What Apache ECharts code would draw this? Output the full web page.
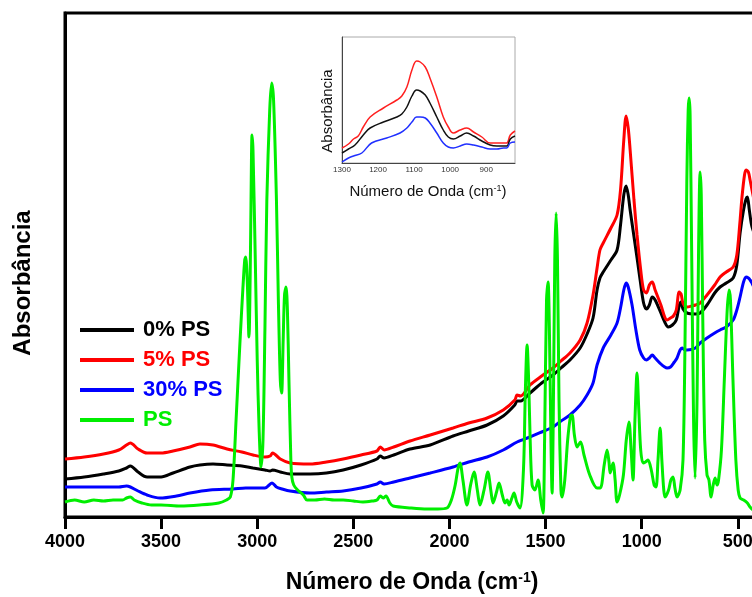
<!DOCTYPE html>
<html><head><meta charset="utf-8">
<script src="https://cdn.jsdelivr.net/npm/echarts@6/dist/echarts.min.js"></script>
<style>html,body{margin:0;padding:0;background:#fff}#c{width:752px;height:597px}</style>
</head><body><div id="c"></div>
<script>
// ---- main spectra (wavenumber cm-1, absorbance a.u.) ----
var wnRed = [4000,3900,3800,3720,3680,3660,3620,3573,3500,3438,3350,3298,3230,3157,3080,3022,2960,2933,2920,2880,2829,2725,2640,2553,2460,2377,2360,2340,2290,2205,2100,1981,1900,1804,1720,1660,1648,1630,1581,1520,1461,1420,1373,1320,1284,1253,1232,1217,1200,1160,1128,1110,1093,1081,1070,1060,1040,1024,1005,990,975,960,945,930,900,880,868,850,835,820,805,795,785,764,740,720,696,660,620,592,560,524,505,490,478,465,457,445,436,426,400];
var absRed = [.058,.060,.063,.067,.072,.074,.068,.064,.064,.066,.070,.073,.072,.068,.065,.062,.060,.061,.064,.058,.054,.053,.055,.058,.062,.066,.070,.067,.070,.076,.082,.089,.094,.099,.107,.117,.122,.121,.132,.141,.149,.156,.164,.177,.194,.222,.249,.267,.274,.289,.302,.327,.377,.401,.389,.367,.317,.282,.247,.227,.224,.232,.235,.227,.212,.200,.197,.199,.201,.207,.225,.223,.214,.210,.211,.212,.214,.222,.232,.240,.245,.250,.262,.292,.320,.342,.347,.345,.337,.327,.302];

var wnBlack = [4000,3900,3800,3720,3680,3660,3620,3573,3500,3438,3350,3298,3230,3157,3080,3022,2960,2933,2920,2880,2829,2725,2640,2553,2460,2377,2360,2340,2290,2205,2100,1981,1900,1804,1720,1660,1648,1630,1581,1520,1461,1420,1373,1320,1284,1253,1232,1217,1200,1160,1128,1110,1093,1081,1070,1060,1045,1024,1008,990,975,960,945,930,900,880,862,840,820,805,795,785,764,720,696,660,620,592,560,524,505,488,470,457,450,440,426,400];
var absBlack = [.038,.040,.043,.046,.049,.051,.045,.040,.040,.044,.050,.052,.053,.052,.051,.049,.047,.046,.047,.045,.043,.043,.044,.047,.052,.058,.061,.059,.062,.068,.072,.081,.086,.092,.101,.112,.116,.116,.124,.134,.142,.149,.157,.169,.183,.199,.227,.239,.245,.257,.267,.292,.322,.331,.322,.307,.287,.259,.237,.214,.208,.212,.220,.217,.204,.195,.190,.192,.197,.211,.215,.208,.204,.203,.204,.212,.224,.230,.234,.239,.252,.284,.307,.318,.320,.307,.290,.277];

var wnBlue = [4000,3900,3800,3720,3680,3660,3620,3573,3506,3420,3350,3246,3126,3060,3022,2960,2923,2900,2870,2829,2725,2640,2553,2460,2377,2360,2340,2290,2205,2100,1981,1900,1804,1720,1648,1581,1520,1461,1420,1373,1320,1284,1253,1232,1200,1160,1128,1110,1093,1081,1070,1050,1030,1010,990,975,960,945,930,900,880,868,850,830,816,800,790,775,764,720,696,660,620,592,560,524,505,488,470,457,445,436,426,400];
var absBlue = [.030,.030,.030,.030,.031,.030,.026,.022,.019,.021,.024,.027,.028,.029,.029,.029,.034,.030,.028,.026,.024,.025,.026,.029,.033,.035,.033,.035,.039,.044,.050,.055,.060,.067,.075,.080,.085,.090,.096,.102,.112,.122,.134,.152,.169,.182,.194,.209,.227,.234,.230,.212,.187,.167,.159,.157,.159,.162,.159,.153,.150,.149,.150,.155,.159,.167,.169,.167,.167,.169,.174,.179,.184,.187,.190,.197,.207,.220,.235,.240,.239,.237,.234,.222];

var wnPS = [4000,3950,3900,3850,3800,3750,3700,3680,3660,3640,3600,3550,3500,3400,3300,3200,3160,3140,3126,3110,3090,3075,3065,3060,3052,3043,3035,3030,3027,3022,3010,3000,2990,2980,2970,2960,2950,2935,2925,2915,2900,2890,2880,2873,2865,2858,2850,2843,2835,2825,2820,2810,2790,2760,2741,2700,2650,2600,2553,2500,2450,2400,2377,2360,2345,2330,2310,2293,2200,2117,2060,2013,1990,1970,1955,1945,1930,1909,1890,1872,1855,1841,1820,1800,1785,1773,1755,1742,1725,1711,1700,1690,1675,1664,1650,1633,1615,1605,1596,1588,1580,1570,1555,1539,1525,1513,1505,1495,1487,1480,1472,1466,1460,1452,1445,1438,1430,1420,1414,1400,1385,1370,1362,1350,1336,1318,1300,1270,1232,1215,1195,1180,1170,1164,1149,1138,1128,1115,1095,1080,1066,1055,1045,1035,1024,1015,1005,993,980,967,950,935,925,915,904,895,885,878,860,848,837,827,816,800,785,775,765,758,753,748,740,730,722,712,704,696,690,682,672,660,650,639,628,618,608,600,585,570,555,545,538,525,510,498,488,470,450,436,420,400];
var absPS = [.015,.017,.015,.017,.016,.017,.017,.019,.020,.017,.014,.012,.012,.011,.012,.014,.017,.020,.037,.097,.174,.227,.257,.260,.237,.180,.267,.357,.382,.367,.257,.157,.087,.050,.077,.187,.317,.407,.434,.417,.317,.217,.137,.124,.177,.222,.230,.207,.137,.057,.040,.032,.027,.022,.017,.017,.018,.017,.017,.016,.015,.016,.017,.021,.019,.021,.014,.011,.009,.008,.008,.009,.017,.032,.049,.054,.037,.012,.032,.045,.027,.012,.027,.045,.027,.014,.025,.034,.022,.014,.017,.012,.019,.024,.015,.009,.047,.127,.172,.137,.077,.032,.027,.037,.017,.004,.077,.217,.235,.187,.077,.024,.097,.257,.304,.257,.117,.027,.020,.037,.077,.101,.102,.082,.070,.075,.062,.042,.029,.029,.052,.067,.055,.044,.054,.037,.015,.022,.042,.077,.095,.067,.037,.097,.144,.107,.067,.054,.055,.057,.047,.032,.030,.057,.089,.057,.027,.020,.027,.037,.040,.029,.020,.027,.057,.167,.337,.407,.419,.402,.267,.097,.039,.117,.267,.345,.322,.197,.077,.042,.037,.020,.032,.039,.032,.037,.067,.137,.207,.227,.217,.137,.057,.027,.019,.017,.014,.010,.007,.005];

// ---- inset spectra (1300-820 cm-1) ----
var wnInRed = [1300,1282,1268,1255,1241,1222,1185,1148,1134,1120,1106,1093,1083,1069,1056,1037,1019,1005,991,972,954,935,912,889,870,852,843,833,820];
var absInRed = [.015,.019,.024,.027,.036,.046,.055,.063,.067,.076,.093,.102,.101,.096,.085,.066,.046,.036,.030,.033,.035,.031,.026,.020,.020,.020,.020,.028,.032];
var wnInBlack = [1300,1282,1264,1241,1222,1185,1148,1134,1120,1106,1093,1083,1069,1056,1037,1019,1005,991,972,954,935,912,889,870,852,843,833,820];
var absInBlack = [.010,.014,.018,.028,.035,.041,.046,.049,.056,.067,.073,.072,.068,.060,.046,.033,.026,.024,.027,.030,.027,.022,.018,.017,.017,.017,.024,.027];
var wnInBlue = [1300,1282,1268,1245,1218,1176,1139,1120,1106,1093,1083,1069,1056,1037,1019,1005,991,972,954,935,912,889,870,852,843,833,820];
var absInBlue = [.001,.005,.007,.010,.020,.025,.030,.035,.041,.046,.046,.045,.040,.030,.020,.016,.015,.017,.019,.018,.016,.014,.014,.015,.015,.020,.021];

var xTicks = [500,1000,1500,2000,2500,3000,3500,4000];
var insetTicks = [900,1000,1100,1200,1300];
var names = ['0% PS','5% PS','30% PS','PS'];

function zip(a,b){var r=[];for(var i=0;i<a.length;i++)r.push([a[i],b[i]]);return r;}
var FF = 'Liberation Sans, Arial, sans-serif';
var chart = echarts.init(document.getElementById('c'));
function mainSeries(name,wn,ab,color,w){
  return {name:name,type:'line',xAxisIndex:0,yAxisIndex:0,data:zip(wn,ab),showSymbol:false,symbol:'none',
    smooth:0.3,lineStyle:{color:color,width:w},itemStyle:{color:color},z:3};
}
function inSeries(wn,ab,color){
  return {type:'line',xAxisIndex:1,yAxisIndex:1,data:zip(wn,ab),showSymbol:false,symbol:'none',
    smooth:0.4,lineStyle:{color:color,width:1.5},z:5};
}
function plain(v){return String(v);}
chart.setOption({
  animation:false,
  backgroundColor:'#fff',
  grid:[
    {left:65,top:13,width:692,height:504,outerBoundsMode:'none',containLabel:false,show:true,borderColor:'#000',borderWidth:3,backgroundColor:'transparent'},
    {left:342,top:37,width:173,height:126,outerBoundsMode:'none',containLabel:false,show:true,borderColor:'#aaa',borderWidth:1,backgroundColor:'#fff'}
  ],
  xAxis:[
    {type:'value',gridIndex:0,min:400,max:4000,inverse:true,
     axisLine:{show:true,lineStyle:{color:'#000',width:3}},
     axisTick:{show:true,customValues:xTicks,length:12,lineStyle:{color:'#000',width:3}},
     axisLabel:{customValues:xTicks,formatter:plain,color:'#000',fontSize:18,fontWeight:'bold',fontFamily:FF,margin:16},
     splitLine:{show:false}},
    {type:'value',gridIndex:1,min:820,max:1300,inverse:true,
     axisLine:{show:true,lineStyle:{color:'#444',width:1}},
     axisTick:{show:false},
     axisLabel:{customValues:insetTicks,formatter:plain,color:'#333',fontSize:8,fontFamily:FF,margin:3},
     splitLine:{show:false}}
  ],
  yAxis:[
    {type:'value',gridIndex:0,min:0,max:0.504,
     axisLine:{show:true,lineStyle:{color:'#000',width:3}},axisTick:{show:false},axisLabel:{show:false},splitLine:{show:false}},
    {type:'value',gridIndex:1,min:0,max:0.126,
     axisLine:{show:true,lineStyle:{color:'#444',width:1}},axisTick:{show:false},axisLabel:{show:false},splitLine:{show:false}}
  ],
  legend:{orient:'vertical',left:80,top:319,padding:0,icon:'rect',itemWidth:54,itemHeight:4,itemGap:8,
    textStyle:{fontSize:22,fontWeight:'bold',fontFamily:FF,padding:[0,0,0,4]},
    data:[{name:names[0],textStyle:{color:'#000'}},{name:names[1],textStyle:{color:'#ff0000'}},
          {name:names[2],textStyle:{color:'#0000ff'}},{name:names[3],textStyle:{color:'#00ee00'}}]},
  graphic:[
    {type:'text',x:412,y:583,style:{text:'Número de Onda (cm{sup|-1})',align:'center',verticalAlign:'middle',
      font:'bold 23px '+FF,fill:'#000',rich:{sup:{fontSize:14,fontWeight:'bold',fontFamily:FF,verticalAlign:'top',fill:'#000'}}}},
    {type:'text',rotation:Math.PI/2,x:23,y:283,style:{text:'Absorbância',align:'center',verticalAlign:'middle',font:'bold 24px '+FF,fill:'#000'}},
    {type:'text',x:428,y:192,style:{text:'Número de Onda (cm{sup|-1})',align:'center',verticalAlign:'middle',font:'15px '+FF,fill:'#111',
      rich:{sup:{fontSize:9,fontFamily:FF,verticalAlign:'top',fill:'#111'}}}},
    {type:'text',rotation:Math.PI/2,x:328,y:111,style:{text:'Absorbância',align:'center',verticalAlign:'middle',font:'15px '+FF,fill:'#111'}}
  ],
  series:[
    mainSeries(names[0],wnBlack,absBlack,'#000000',3),
    mainSeries(names[1],wnRed,absRed,'#ff0000',3),
    mainSeries(names[2],wnBlue,absBlue,'#0000ff',3),
    mainSeries(names[3],wnPS,absPS,'#00ee00',3),
    inSeries(wnInRed,absInRed,'#ff2020'),
    inSeries(wnInBlack,absInBlack,'#111111'),
    inSeries(wnInBlue,absInBlue,'#2030ff')
  ]
});
</script></body></html>
